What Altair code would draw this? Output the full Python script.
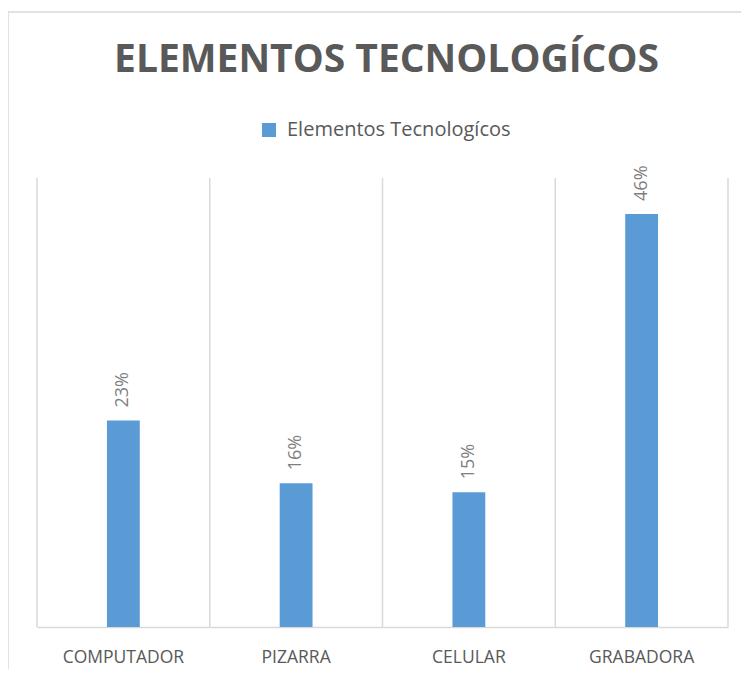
import altair as alt
import pandas as pd

categories = ["COMPUTADOR", "PIZARRA", "CELULAR", "GRABADORA"]
values = [23, 16, 15, 46]
series_name = "Elementos Tecnologícos"
title_text = "ELEMENTOS TECNOLOGÍCOS"
boundaries = [0, 1, 2, 3, 4]

W, H = 691, 449
FONT = "Open Sans"
GRID = "#d9d9d9"

df = pd.DataFrame({
    "cat": categories,
    "val": values,
    "label": [f"{v}%" for v in values],
    "serie": [series_name] * len(categories),
})
grid_df = pd.DataFrame({"b": boundaries})
one = pd.DataFrame({"a": [0]})

xband = alt.X("cat:N", sort=categories,
              scale=alt.Scale(paddingInner=0.81, paddingOuter=0.405),
              axis=alt.Axis(title=None, labelAngle=0, ticks=False,
                            labelFont=FONT, labelFontSize=17.5,
                            labelColor="#595959", labelPadding=21,
                            domainColor=GRID, domainWidth=1.5, grid=False))
yq = alt.Y("val:Q", scale=alt.Scale(domain=[0, 50]), axis=None)

grid = alt.Chart(grid_df).mark_rule(color=GRID, strokeWidth=1.5).encode(
    x=alt.X("b:Q", scale=alt.Scale(domain=[0, 4], nice=False, zero=False), axis=None),
    y=alt.value(0), y2=alt.value(H))

bars = alt.Chart(df).mark_bar().encode(
    x=xband, y=yq,
    color=alt.Color("serie:N", scale=alt.Scale(range=["#5B9BD5"]),
                    legend=alt.Legend(title=None, orient="none", legendX=222, legendY=-58,
                                      padding=0, symbolType="square", symbolSize=196,
                                      symbolStrokeWidth=0, labelFont=FONT, labelFontSize=20,
                                      labelColor="#595959", labelOffset=8, labelLimit=500)))

text = alt.Chart(df).mark_text(angle=270, align="left", baseline="middle", dx=13,
                               font=FONT, fontSize=18, color="#7f7f7f").encode(
    x=alt.X("cat:N", sort=categories), y=yq, text="label:N")

border_top = alt.Chart(one).mark_rule(color=GRID, strokeWidth=1.5).encode(
    x=alt.value(-29), x2=alt.value(720), y=alt.value(-166))
border_left = alt.Chart(one).mark_rule(color=GRID, strokeWidth=1.5).encode(
    x=alt.value(-29), y=alt.value(-166), y2=alt.value(500))

main = alt.layer(bars, text)

chart = alt.layer(border_top, border_left, grid, main).resolve_scale(
    x="independent"
).properties(
    width=W, height=H,
    autosize=alt.AutoSizeParams(type="none"),
    padding={"left": 29, "top": 170, "right": 13, "bottom": 42},
    title=alt.TitleParams(title_text, font=FONT, fontSize=39, fontWeight="bold",
                          color="#595959", anchor="middle",
                          baseline="alphabetic", offset=0, dy=100, dx=4),
    background="white",
).configure_view(stroke=None)

chart.save("out.html", embed_options={"renderer": "svg", "actions": False})
